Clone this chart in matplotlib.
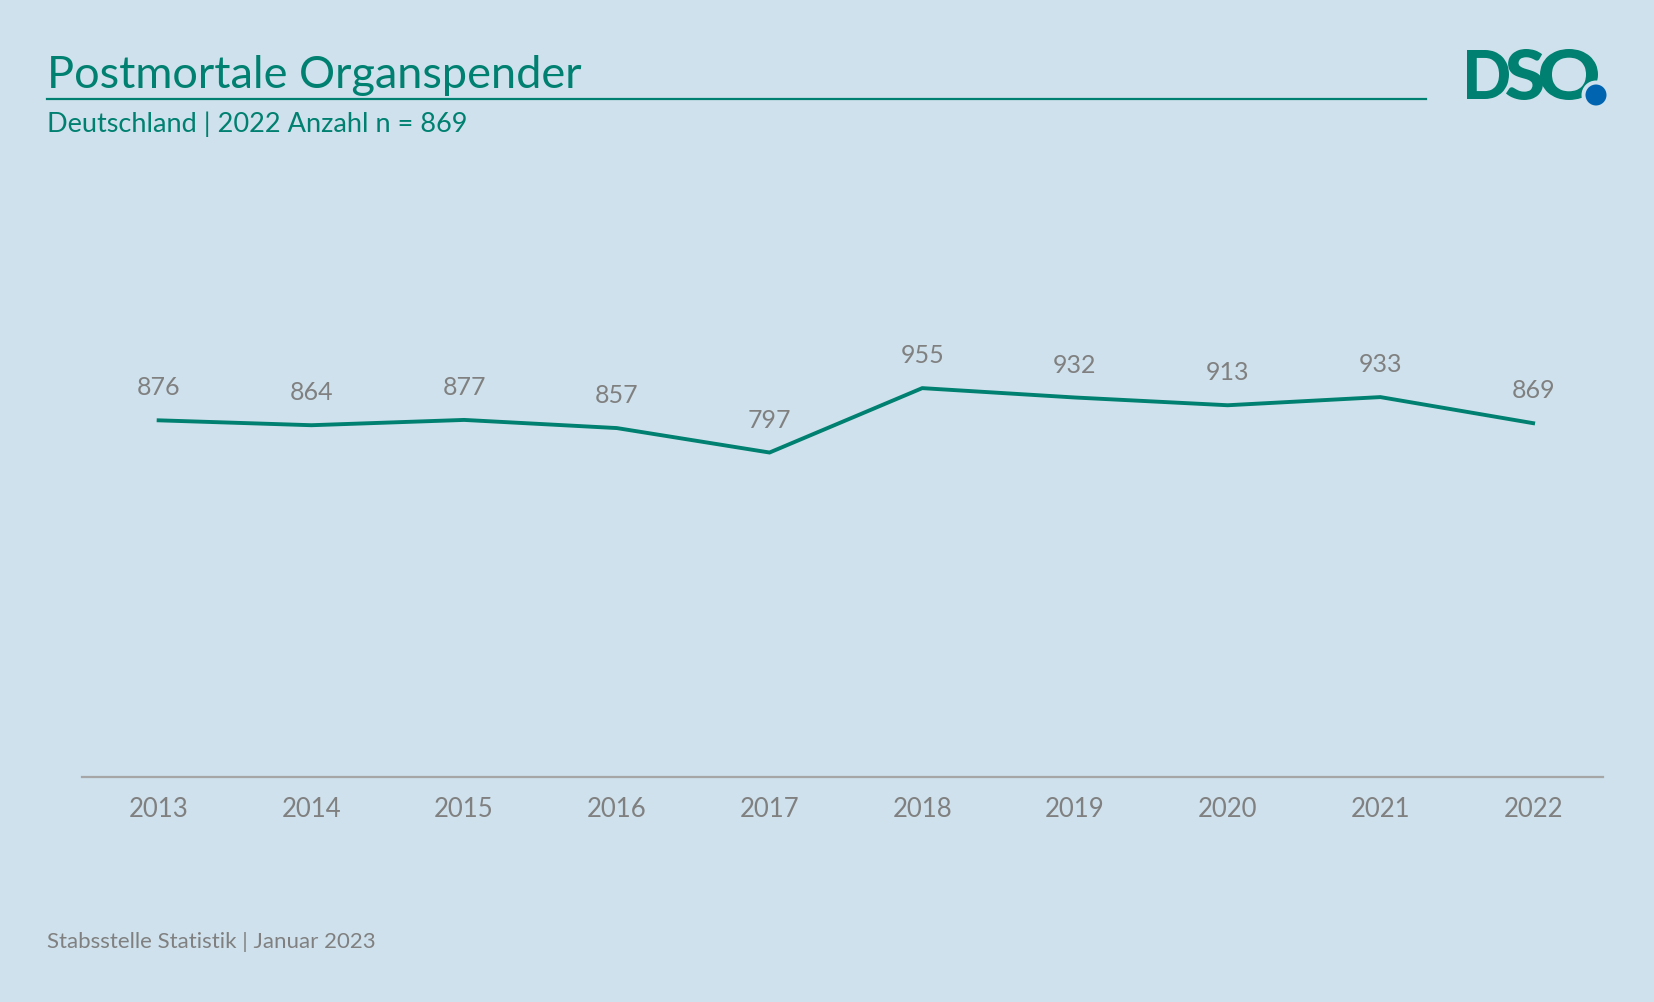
import matplotlib
matplotlib.use("Agg")
import matplotlib.pyplot as plt
from matplotlib.patches import Circle, PathPatch
from matplotlib.textpath import TextPath
from matplotlib.font_manager import FontProperties
from matplotlib.transforms import Affine2D

years = [2013, 2014, 2015, 2016, 2017, 2018, 2019, 2020, 2021, 2022]
spender = [876, 864, 877, 857, 797, 955, 932, 913, 933, 869]

title = "Postmortale Organspender"
subtitle = "Deutschland | 2022 Anzahl n = 869"
footer = "Stabsstelle Statistik | Januar 2023"

bg = "#cfe1ec"
teal = "#008070"
grey = "#808080"
blue = "#0064b0"

plt.rcParams['font.family'] = ['Lato', 'DejaVu Sans']

W, H = 1568.0, 950.0   # layout measured on this grid
def fx(x):
    return x / W
def fy(y):
    return 1 - y / H

fig = plt.figure(figsize=(16.54, 10.02), dpi=100, facecolor=bg)

# plot area: y=0 sits on the base line, x from half a step before 2013
ax = fig.add_axes([fx(78), fy(737), fx(1520) - fx(78), fy(350.6) - fy(737)])
ax.set_facecolor(bg)
ax.plot(years, spender, color=teal, linewidth=2.8, solid_joinstyle='miter')
for x, v in zip(years, spender):
    ax.annotate(str(v), (x, v), xytext=(0, 15), textcoords='offset points',
                ha='center', va='bottom', fontsize=18, color=grey)
ax.set_xlim(2012.5, 2022.46)
ax.set_ylim(0, 1000)
ax.set_yticks([])
ax.set_xticks(years)
ax.set_xticklabels([str(y) for y in years], fontsize=18.5, color=grey)
ax.tick_params(axis='x', length=0, pad=14)
for s in ['top', 'left', 'right']:
    ax.spines[s].set_visible(False)
ax.spines['bottom'].set_color('#a6a6a6')
ax.spines['bottom'].set_linewidth(1.6)

# header
fig.text(fx(45), fy(83), title, fontsize=32.5, color=teal, ha='left', va='baseline')
fig.add_artist(plt.Line2D([fx(45), fx(1352)], [fy(93.5), fy(93.5)],
                          color=teal, linewidth=1.6, transform=fig.transFigure))
fig.text(fx(45), fy(125), subtitle, fontsize=19.5, color=teal, ha='left', va='baseline')

# logo: heavy letters fitted into boxes (pixel coords)
fp = FontProperties(family='Lato', weight='black')
def letter(ch, x0, x1, y0, y1):
    p = TextPath((0, 0), ch, size=100, prop=fp)
    b = p.get_extents()
    tr = Affine2D().translate(-b.x0, -b.y0).scale((x1 - x0) / b.width, (y1 - y0) / b.height).translate(x0, y0)
    fig.add_artist(PathPatch(p, transform=tr, facecolor=teal, edgecolor='none'))

letter("D", 1467, 1509, 903, 952)
letter("S", 1506, 1543, 902, 953)
letter("O", 1540, 1598, 902, 953)
fig.add_artist(Circle((1596, 907), 14.5, transform=Affine2D(), facecolor=bg, edgecolor='none'))
fig.add_artist(Circle((1596, 907), 10.5, transform=Affine2D(), facecolor=blue, edgecolor='none'))

fig.text(fx(45), fy(899), footer, fontsize=16, color=grey, ha='left', va='baseline')

fig.savefig("out.png", dpi=100, facecolor=bg)
